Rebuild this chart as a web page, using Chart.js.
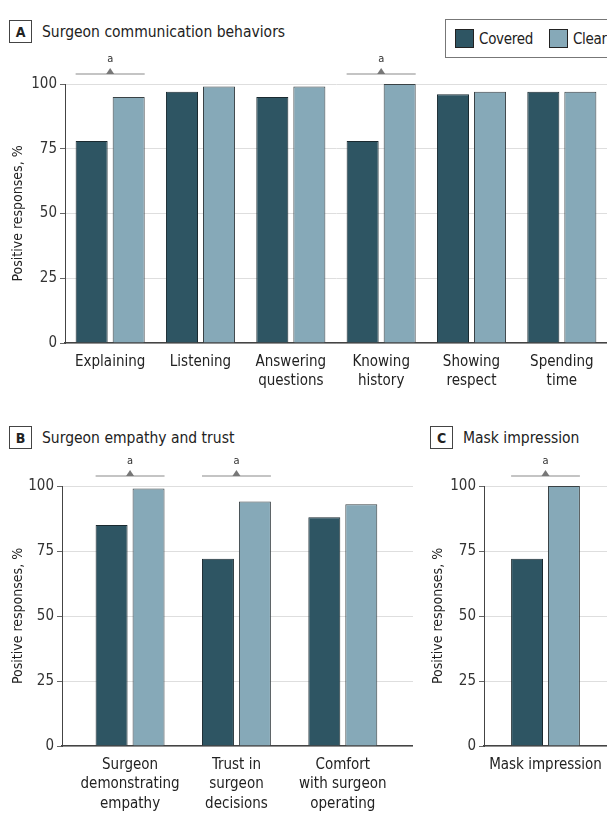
<!DOCTYPE html>
<html>
<head>
<meta charset="utf-8">
<script src="https://cdn.jsdelivr.net/npm/chart.js@4.4.1/dist/chart.umd.min.js"></script>
<style>
  body {
    margin: 0;
    width: 607px;
    height: 824px;
    background: #fff;
    position: relative;
    overflow: hidden;
    font-family: "DejaVu Sans Condensed", "Liberation Sans Narrow", sans-serif;
    color: #222;
  }
  .panel-title {
    position: absolute;
    display: flex;
    align-items: center;
    font-size: 15.5px;
    white-space: nowrap;
  }
  .tag {
    box-sizing: border-box;
    width: 23px;
    height: 23px;
    border: 1px solid #444;
    display: flex;
    align-items: center;
    justify-content: center;
    font-weight: bold;
    font-size: 14px;
    margin-right: 10px;
  }
  .legend {
    position: absolute;
    left: 445px;
    top: 19px;
    width: 175px;
    height: 39px;
    box-sizing: border-box;
    border: 1px solid #777;
    display: flex;
    align-items: center;
    padding-left: 9px;
    font-size: 15px;
    letter-spacing: -0.3px;
    white-space: nowrap;
  }
  .swatch {
    box-sizing: border-box;
    width: 19px;
    height: 19px;
    border: 1px solid #222;
    margin-right: 5px;
  }
  .legend span.item { display: flex; align-items: center; margin-right: 16px; }
  .chart-box { position: absolute; }
</style>
</head>
<body>
<div class="panel-title" style="left:9px; top:20px;"><div class="tag">A</div>Surgeon communication behaviors</div>
<div class="legend">
  <span class="item"><span class="swatch" style="background:#2e5563"></span>Covered</span>
  <span class="item"><span class="swatch" style="background:#86a9b8"></span>Clear</span>
</div>
<div class="panel-title" style="left:9px; top:426px;"><div class="tag">B</div>Surgeon empathy and trust</div>
<div class="panel-title" style="left:430px; top:426px;"><div class="tag">C</div>Mask impression</div>

<div class="chart-box" style="left:0; top:50px;"><canvas id="chartA" width="607" height="343"></canvas></div>
<div class="chart-box" style="left:0; top:440px;"><canvas id="chartB" width="413" height="376"></canvas></div>
<div class="chart-box" style="left:420px; top:440px;"><canvas id="chartC" width="187" height="376"></canvas></div>

<script>
// values (percent of positive responses)
const categoriesA = ["Explaining", "Listening", ["Answering", "questions"], ["Knowing", "history"], ["Showing", "respect"], ["Spending", "time"]];
const coveredA = [78, 97, 95, 78, 96, 97];
const clearA = [95, 99, 99, 100, 97, 97];
const significantA = [0, 3];

const categoriesB = [["Surgeon", "demonstrating", "empathy"], ["Trust in", "surgeon", "decisions"], ["Comfort", "with surgeon", "operating"]];
const coveredB = [85, 72, 88];
const clearB = [99, 94, 93];
const significantB = [0, 1];

const categoriesC = ["Mask impression"];
const coveredC = [72];
const clearC = [100];
const significantC = [0];

const yTicks = [0, 25, 50, 75, 100];
const seriesNames = ["Covered", "Clear"];

const coveredColor = "#2e5563";
const clearColor = "#86a9b8";
const fontFamily = '"DejaVu Sans Condensed", "Liberation Sans Narrow", sans-serif';

// draws the "a" bracket over groups with a significant difference
const bracketPlugin = {
  id: "bracket",
  afterDatasetsDraw(chart, args, opts) {
    const groups = opts.groups || [];
    const ctx = chart.ctx;
    const y100 = chart.scales.y.getPixelForValue(100);
    const metaCovered = chart.getDatasetMeta(0);
    const metaClear = chart.getDatasetMeta(1);
    groups.forEach((index) => {
      const a = metaCovered.data[index];
      const b = metaClear.data[index];
      const left = a.x - a.width / 2;
      const right = b.x + b.width / 2;
      const mid = (left + right) / 2;
      const lineY = y100 - 10;
      ctx.save();
      ctx.strokeStyle = "#8a8a8a";
      ctx.lineWidth = 1.2;
      ctx.beginPath();
      ctx.moveTo(left, lineY);
      ctx.lineTo(right, lineY);
      ctx.stroke();
      ctx.fillStyle = "#777";
      ctx.beginPath();
      ctx.moveTo(mid - 4, lineY);
      ctx.lineTo(mid + 4, lineY);
      ctx.lineTo(mid, lineY - 6);
      ctx.closePath();
      ctx.fill();
      ctx.fillStyle = "#333";
      ctx.font = "11px " + fontFamily;
      ctx.textAlign = "center";
      ctx.textBaseline = "middle";
      ctx.fillText("a", mid, lineY - 15);
      ctx.restore();
    });
  }
};

function yScale(width) {
  return {
    min: 0,
    max: 100,
    afterBuildTicks: (scale) => { scale.ticks = yTicks.map((v) => ({ value: v })); },
    afterFit: (scale) => { scale.width = width; },
    ticks: { color: "#333", font: { family: fontFamily, size: 15 }, padding: 3 },
    grid: { color: "#dedede", lineWidth: 1, tickColor: "#666", tickLength: 5 },
    border: { display: true, color: "#444", width: 1 },
    title: {
      display: true,
      text: "Positive responses, %",
      color: "#222",
      font: { family: fontFamily, size: 14 },
      padding: { top: 10, bottom: 0 }
    }
  };
}

function datasets(covered, clear, categoryPercentage) {
  return [
    { label: seriesNames[0], data: covered, backgroundColor: coveredColor, borderColor: "#1a2a30", borderWidth: 1,
      categoryPercentage, barPercentage: 0.865 },
    { label: seriesNames[1], data: clear, backgroundColor: clearColor, borderColor: "#3a4245", borderWidth: 1,
      categoryPercentage, barPercentage: 0.865 }
  ];
}

const xTickStyle = { color: "#222", font: { family: fontFamily, size: 15, lineHeight: 1.27 }, padding: 2,
  maxRotation: 0, autoSkip: false };

function makeChart(id, cfg) {
  return new Chart(document.getElementById(id), {
    type: "bar",
    data: { labels: cfg.labels, datasets: datasets(cfg.covered, cfg.clear, cfg.categoryPercentage) },
    options: {
      responsive: false,
      animation: false,
      layout: { padding: { top: cfg.top, right: 0, left: 0, bottom: 0 } },
      plugins: {
        legend: { display: false },
        tooltip: { enabled: false },
        bracket: { groups: cfg.groups }
      },
      scales: {
        x: Object.assign({
          afterFit: (scale) => { scale.height = cfg.xHeight; },
          ticks: xTickStyle,
          grid: { display: false },
          border: { display: true, color: "#444", width: 1.5 }
        }, cfg.xExtra || {}),
        y: yScale(cfg.yWidth)
      }
    },
    plugins: [bracketPlugin]
  });
}

makeChart("chartA", {
  labels: categoriesA, covered: coveredA, clear: clearA, groups: significantA,
  top: 34, xHeight: 50, yWidth: 65, categoryPercentage: 0.82
});

// panel B uses a numeric x axis so the groups sit further in from the axis ends
makeChart("chartB", {
  labels: undefined,
  covered: coveredB.map((v, i) => ({ x: i, y: v })),
  clear: clearB.map((v, i) => ({ x: i, y: v })),
  groups: significantB,
  top: 46, xHeight: 70, yWidth: 62, categoryPercentage: 0.695,
  xExtra: {
    type: "linear",
    offset: false,
    min: -0.64,
    max: categoriesB.length - 1 + 0.66,
    afterBuildTicks: (scale) => { scale.ticks = categoriesB.map((c, i) => ({ value: i })); },
    ticks: Object.assign({}, xTickStyle, { callback: (v) => categoriesB[v] })
  }
});

makeChart("chartC", {
  labels: categoriesC, covered: coveredC, clear: clearC, groups: significantC,
  top: 46, xHeight: 70, yWidth: 64, categoryPercentage: 0.6
});
</script>
</body>
</html>
